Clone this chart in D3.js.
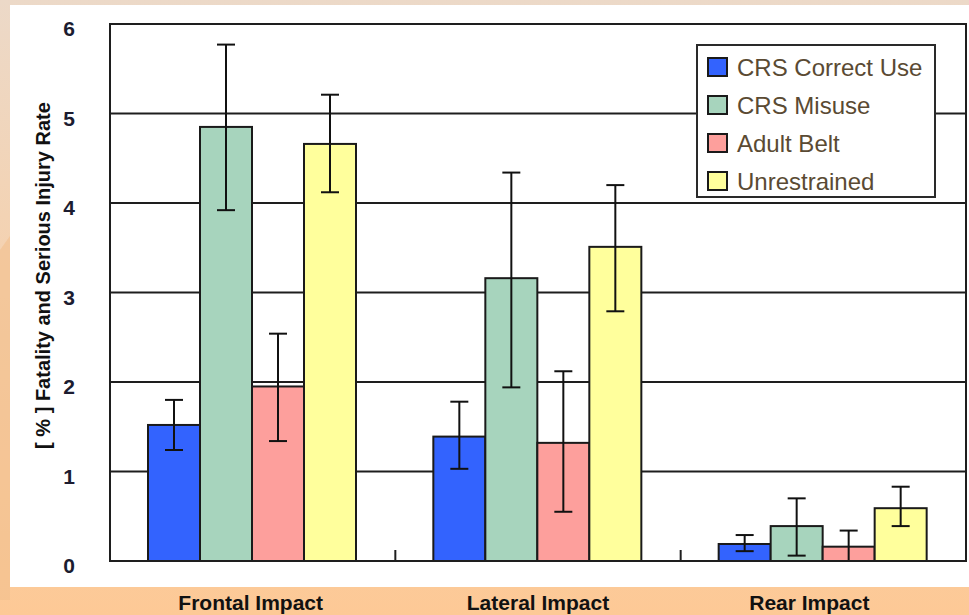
<!DOCTYPE html>
<html>
<head>
<meta charset="utf-8">
<script src="https://cdn.jsdelivr.net/npm/d3@7"></script>
<style>
  html, body { margin: 0; padding: 0; background: #fff; }
  svg { display: block; font-family: "Liberation Sans", Arial, sans-serif; }
</style>
</head>
<body>
<svg id="chart" width="969" height="615"></svg>
<script>
// ---- data ----
const categories = ["Frontal Impact", "Lateral Impact", "Rear Impact"];
const seriesNames = ["CRS Correct Use", "CRS Misuse", "Adult Belt", "Unrestrained"];
const seriesColors = ["#3363fe", "#a7d4bd", "#fd9f9c", "#ffff9c"];

const correctUse      = [1.52, 1.39, 0.19];
const correctUseLow   = [1.24, 1.03, 0.11];
const correctUseHigh  = [1.80, 1.78, 0.29];

const misuse          = [4.85, 3.16, 0.39];
const misuseLow       = [3.92, 1.94, 0.06];
const misuseHigh      = [5.77, 4.34, 0.70];

const adultBelt       = [1.95, 1.32, 0.16];
const adultBeltLow    = [1.34, 0.55, 0.00];
const adultBeltHigh   = [2.54, 2.12, 0.34];

const unrestrained     = [4.66, 3.51, 0.59];
const unrestrainedLow  = [4.12, 2.79, 0.39];
const unrestrainedHigh = [5.21, 4.20, 0.83];

const yTicks = [0, 1, 2, 3, 4, 5, 6];
const yLabel = "[ % ] Fatality and Serious Injury Rate";

const seriesValues = [correctUse, misuse, adultBelt, unrestrained];
const seriesLow = [correctUseLow, misuseLow, adultBeltLow, unrestrainedLow];
const seriesHigh = [correctUseHigh, misuseHigh, adultBeltHigh, unrestrainedHigh];

// ---- layout ----
const W = 969, H = 615;
const plot = { left: 110, right: 966, top: 24, bottom: 561 };

const svg = d3.select("#chart");

// background
const defs = svg.append("defs");
const bg = defs.append("linearGradient").attr("id", "bgGrad")
  .attr("x1", 0).attr("y1", 0).attr("x2", 0).attr("y2", 1);
bg.append("stop").attr("offset", "0%").attr("stop-color", "#ecd9c8");
bg.append("stop").attr("offset", "35%").attr("stop-color", "#f3d3b4");
bg.append("stop").attr("offset", "100%").attr("stop-color", "#fdc996");
svg.append("rect").attr("width", W).attr("height", H).attr("fill", "url(#bgGrad)");
// darker wedge on the left strip
svg.append("path").attr("d", "M0,250 L10,236 L10,600 L0,600 Z").attr("fill", "#f1bf8e").attr("opacity", 0.6);
// white panel
svg.append("rect").attr("x", 10).attr("y", 5).attr("width", W - 10).attr("height", 582).attr("fill", "#ffffff");

// scales
const x0 = d3.scaleBand().domain(categories).range([plot.left, plot.right]).paddingInner(0).paddingOuter(0);
const x1 = d3.scaleBand().domain(seriesNames).range([38, 38 + 208]).padding(0);
const y = d3.scaleLinear().domain([0, 6]).range([plot.bottom, plot.top]);

// gridlines
svg.append("g").selectAll("line").data(yTicks.filter(t => t > 0 && t < 6)).join("line")
  .attr("x1", plot.left).attr("x2", plot.right)
  .attr("y1", d => y(d)).attr("y2", d => y(d))
  .attr("stroke", "#1e1e1e").attr("stroke-width", 2);

// category separator ticks (inward, on baseline)
svg.append("g").selectAll("line").data(categories.slice(1)).join("line")
  .attr("x1", d => x0(d)).attr("x2", d => x0(d))
  .attr("y1", plot.bottom).attr("y2", plot.bottom - 11)
  .attr("stroke", "#1e1e1e").attr("stroke-width", 2);

// bars
const rows = [];
categories.forEach((c, ci) => {
  seriesNames.forEach((s, si) => {
    rows.push({ cat: c, ser: s, si, v: seriesValues[si][ci], lo: seriesLow[si][ci], hi: seriesHigh[si][ci] });
  });
});

svg.append("g").selectAll("rect").data(rows).join("rect")
  .attr("x", d => x0(d.cat) + x1(d.ser))
  .attr("y", d => y(d.v))
  .attr("width", x1.bandwidth())
  .attr("height", d => y(0) - y(d.v))
  .attr("fill", d => seriesColors[d.si])
  .attr("stroke", "#1a1a1a").attr("stroke-width", 2);

// error bars
const cap = 9;
const eb = svg.append("g").attr("stroke", "#111").attr("stroke-width", 2).attr("fill", "none");
eb.selectAll("line.v").data(rows).join("line").attr("class", "v")
  .attr("x1", d => x0(d.cat) + x1(d.ser) + x1.bandwidth() / 2)
  .attr("x2", d => x0(d.cat) + x1(d.ser) + x1.bandwidth() / 2)
  .attr("y1", d => y(d.lo)).attr("y2", d => y(d.hi));
eb.selectAll("line.t").data(rows).join("line").attr("class", "t")
  .attr("x1", d => x0(d.cat) + x1(d.ser) + x1.bandwidth() / 2 - cap)
  .attr("x2", d => x0(d.cat) + x1(d.ser) + x1.bandwidth() / 2 + cap)
  .attr("y1", d => y(d.hi)).attr("y2", d => y(d.hi));
eb.selectAll("line.b").data(rows).join("line").attr("class", "b")
  .attr("x1", d => x0(d.cat) + x1(d.ser) + x1.bandwidth() / 2 - cap)
  .attr("x2", d => x0(d.cat) + x1(d.ser) + x1.bandwidth() / 2 + cap)
  .attr("y1", d => y(d.lo)).attr("y2", d => y(d.lo));

// plot border
svg.append("rect")
  .attr("x", plot.left).attr("y", plot.top)
  .attr("width", plot.right - plot.left).attr("height", plot.bottom - plot.top)
  .attr("fill", "none").attr("stroke", "#1e1e1e").attr("stroke-width", 2);

// y tick labels
svg.append("g").selectAll("text").data(yTicks).join("text")
  .attr("x", 69).attr("y", d => y(d) + 12)
  .attr("text-anchor", "middle")
  .attr("font-size", 21).attr("font-weight", "bold")
  .attr("fill", "#1c1c30")
  .text(d => d);

// y axis label
svg.append("text")
  .attr("transform", `translate(50, ${(98 + 453) / 2}) rotate(-90)`)
  .attr("text-anchor", "middle")
  .attr("font-size", 20).attr("font-weight", "bold")
  .attr("fill", "#111")
  .text(yLabel);

// x category labels
const labelShift = [-2, 0, -14];
svg.append("g").selectAll("text").data(categories).join("text")
  .attr("x", (d, i) => x0(d) + x0.bandwidth() / 2 + labelShift[i])
  .attr("y", 610)
  .attr("text-anchor", "middle")
  .attr("font-size", 21).attr("font-weight", "bold")
  .attr("fill", "#111")
  .text(d => d);

// legend
const lg = svg.append("g");
lg.append("rect").attr("x", 697).attr("y", 45).attr("width", 238).attr("height", 152)
  .attr("fill", "#fff").attr("stroke", "#2a2a2a").attr("stroke-width", 2);
const ly = d3.scalePoint().domain(seriesNames).range([67, 181]);
lg.selectAll("rect.sw").data(seriesNames).join("rect").attr("class", "sw")
  .attr("x", 708).attr("y", d => ly(d) - 9).attr("width", 19).attr("height", 18)
  .attr("fill", (d, i) => seriesColors[i]).attr("stroke", "#1a1a1a").attr("stroke-width", 2);
lg.selectAll("text").data(seriesNames).join("text")
  .attr("x", 737).attr("y", d => ly(d) + 9)
  .attr("font-size", 24).attr("fill", "#5a4a33")
  .text(d => d);
</script>
</body>
</html>
